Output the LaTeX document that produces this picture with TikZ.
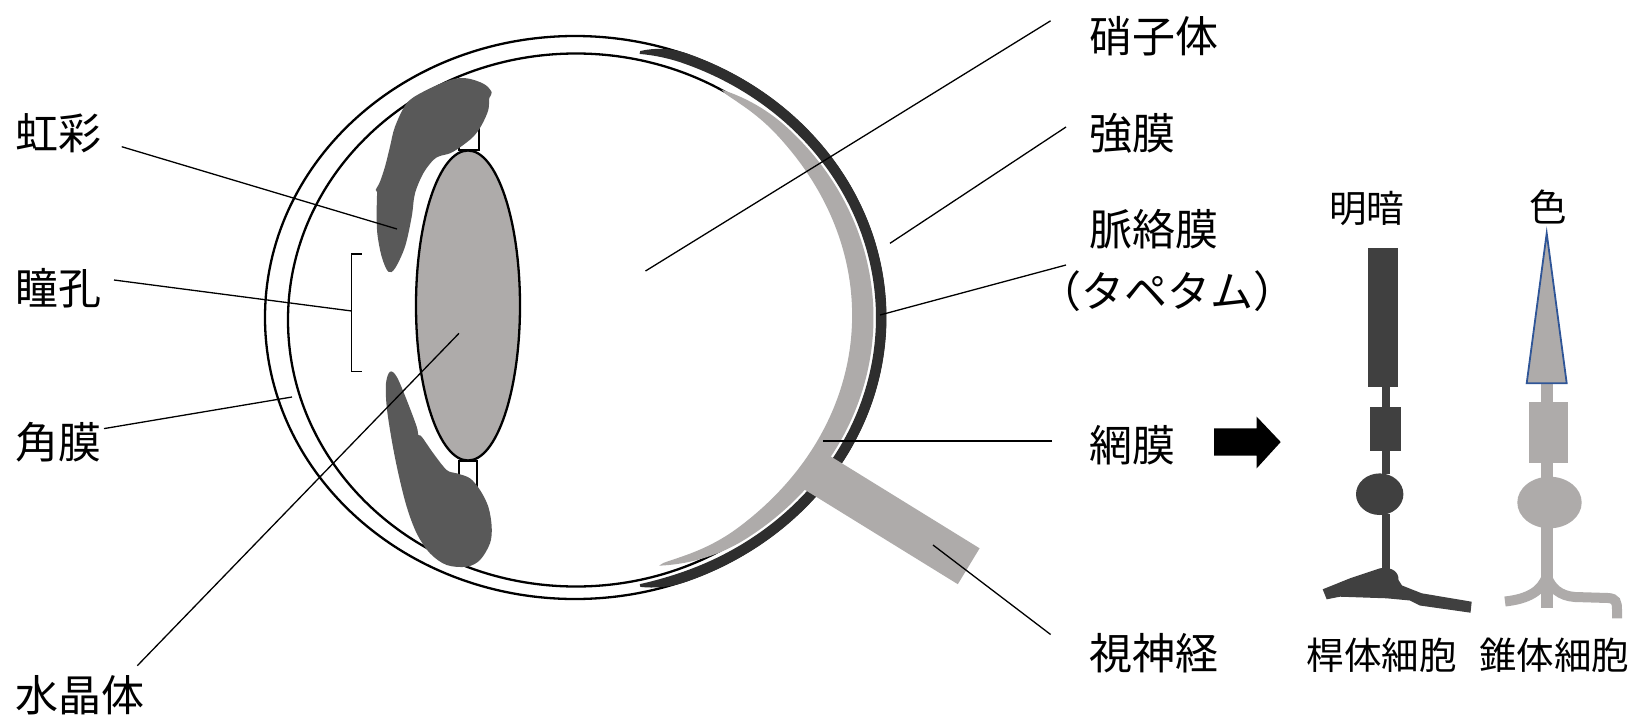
\documentclass[tikz,border=0pt]{standalone}
\usepackage{fontspec}
\newfontfamily\jp{Noto Sans CJK JP}
\usetikzlibrary{calc}
\definecolor{irisgray}{HTML}{595959}
\definecolor{softgray}{HTML}{AEABAA}
\definecolor{choroidgray}{HTML}{2E2E2E}
\definecolor{rodgray}{HTML}{404040}
\definecolor{coneblue}{HTML}{2F5597}
\begin{document}
\begin{tikzpicture}[x=1pt,y=-1pt,
  shell/.style={draw=black,line width=2.3pt},
  leader/.style={draw=black,line width=1.3pt},
  lbl/.style={font=\jp\fontsize{43}{50}\selectfont,inner sep=0pt},
  cell/.style={font=\jp\fontsize{37.5}{44}\selectfont,inner sep=0pt},
  declare function={
    sb(\t)=max(0,(abs(\t)-69)/8.5);
    kb(\t)=7+3*(\t>0);
    cb(\t)=3.75+(kb(\t)-3.75)*sb(\t)*sb(\t);
    hb(\t)=5.25-3.75*sb(\t)*sb(\t);
    pa(\t)=max(0,(\t-45)/14.84);
    pb(\t)=max(0,(-\t-55)/18);
    fo(\t)=11.5+6.5*pa(\t)*pa(\t)+10.5*pb(\t)*pb(\t);
    uu(\t)=(\t+6.58)/66.42;
    ww(\t)=21.5*pow(max(0.00001,1-uu(\t)*uu(\t)),0.6);
  }]
\useasboundingbox (0,0) rectangle (1631,718);
\fill[white] (0,0) rectangle (1631,718);

% eyeball: outer and inner walls
\draw[shell] (575,317.5) ellipse [x radius=310,y radius=281.5];
\draw[shell] (576,320) ellipse [x radius=288,y radius=266.5];

% suspensory ligaments above and below the lens
\draw[fill=white,draw=black,line width=2pt] (458.5,120) rectangle (478.5,149.5);
\draw[fill=white,draw=black,line width=2pt] (458.5,460.5) rectangle (476.5,500);

% lens
\draw[fill=softgray,draw=black,line width=2.3pt] (468,305.5) ellipse [x radius=52,y radius=155];

% iris, upper and lower
\fill[irisgray] plot[smooth cycle,tension=0.55] coordinates {
  (491.7,92.3) (489.3,98) (488.3,110) (481.7,125) (473.3,136.7) (460,147.3)
  (450,153.3) (440,156) (433.3,160) (423.3,173.3) (415,193.3) (411.7,216.7)
  (405,246.7) (395,268.3) (388.3,271.7) (381.7,256.7) (377.3,233.3) (376.7,210)
  (377,192) (375.7,190) (380,181.7) (385,166.7) (390,146.7) (395,126.7)
  (406.7,103.3) (423.3,91.7) (450,80) (466.7,78.3) (484,84)};
\fill[irisgray] plot[smooth cycle,tension=0.55] coordinates {
  (390,371.7) (396.7,376.7) (406.7,400) (416.7,426.7) (418.3,435) (421.7,436.7)
  (433.3,453.3) (446.7,470) (456.7,473.3) (470,478.3) (480,490) (488.3,506.7)
  (491.7,526.7) (490,543.3) (480,560) (466.7,566.7) (446.7,565) (430,553.3)
  (416.7,533.3) (406.7,506.7) (398.3,473.3) (391.7,440) (386.7,406.7) (386,383.3)};

% retina
\fill[softgray]
  plot[domain=-73:59.84,samples=140,variable=\t]
    ({575+(310-fo(\t))*cos(\t)},{317.5-(281.5-fo(\t))*sin(\t)})
  -- plot[domain=59.84:-73,samples=140,variable=\t]
    ({575+(310-fo(\t)-ww(\t))*cos(\t)},{317.5-(281.5-fo(\t)-ww(\t))*sin(\t)})
  -- cycle;

% choroid
\fill[choroidgray]
  plot[domain=-77.6:77.5,samples=160,variable=\t]
    ({575+(310-cb(\t)+hb(\t))*cos(\t)},{317.5-(281.5-cb(\t)+hb(\t))*sin(\t)})
  -- plot[domain=77.5:-77.6,samples=160,variable=\t]
    ({575+(310-cb(\t)-hb(\t))*cos(\t)},{317.5-(281.5-cb(\t)-hb(\t))*sin(\t)})
  -- cycle;

% optic nerve
\fill[softgray] (823.9,452.2) -- (979.6,548.3) -- (957.8,584.2) -- (802.1,488.1) -- cycle;

% pupil bracket
\draw[leader] (361.5,254) -- (351.7,254) -- (351.7,371.7) -- (361.5,371.7);

% labels
\node[lbl,anchor=west] (kousai) at (15,133) {虹彩};
\node[lbl,anchor=west] (doukou) at (15,288) {瞳孔};
\node[lbl,anchor=west] (kakumaku) at (15,442) {角膜};
\node[lbl,anchor=west] (suishoutai) at (15,695) {水晶体};
\node[lbl,anchor=west] (shoushitai) at (1089,36.4) {硝子体};
\node[lbl,anchor=west] (kyoumaku) at (1089,133) {強膜};
\node[lbl,anchor=west] (myakuraku) at (1089,229) {脈絡膜};
\node[lbl,anchor=center] (tapetum) at (1167,291) {（タペタム）};
\node[lbl,anchor=west] (moumaku) at (1089,445) {網膜};
\node[lbl,anchor=west] (shishinkei) at (1089,653) {視神経};

% leader line ends
\coordinate (kousaiA) at (121.7,146.7);   \coordinate (kousaiB) at (397,229);
\coordinate (doukouA) at (114,280);       \coordinate (doukouB) at (351.7,311);
\coordinate (kakuA) at (104,428.6);       \coordinate (kakuB) at (292,397);
\coordinate (suiA) at (137.3,665.7);      \coordinate (suiB) at (459,333.3);
\coordinate (shouA) at (1050.6,20.8);     \coordinate (shouB) at (645.5,271);
\coordinate (kyouA) at (1066,127);        \coordinate (kyouB) at (890,243.3);
\coordinate (myakuA) at (1066,265);       \coordinate (myakuB) at (880,315);
\coordinate (mouA) at (1052,441);         \coordinate (mouB) at (823.3,441);
\coordinate (shiA) at (1050.6,634.5);     \coordinate (shiB) at (933,545);

\draw[leader] (kousaiA) -- (kousaiB);
\draw[leader] (doukouA) -- (doukouB);
\draw[leader] (kakuA) -- (kakuB);
\draw[leader] (suiA) -- (suiB);
\draw[leader] (shouA) -- (shouB);
\draw[leader] (kyouA) -- (kyouB);
\draw[leader] (myakuA) -- (myakuB);
\draw[leader] (mouA) -- (mouB);
\draw[leader] (shiA) -- (shiB);

% arrow towards the cells
\fill[black] (1214,428.3) -- (1256.7,428.3) -- (1256.7,416.7) -- (1280.7,442)
  -- (1256.7,468.3) -- (1256.7,455.5) -- (1214,455.5) -- cycle;

% rod cell
\fill[rodgray] (1367.7,248.3) rectangle (1398.3,387.3);
\fill[rodgray] (1381.7,387) rectangle (1390,407);
\fill[rodgray] (1370,406.7) rectangle (1400.7,451);
\fill[rodgray] (1381.7,450) rectangle (1390,474);
\fill[rodgray] (1379.7,494.2) ellipse [x radius=23.7,y radius=20.8];
\fill[rodgray] (1381.7,514) rectangle (1390,570);
\fill[rodgray] (1322.7,589.3) -- (1350,578.3) -- (1380,568.3)
  .. controls (1392,566.5) and (1399,572) .. (1398.5,580) -- (1402,585.5)
  -- (1421.7,593.3) -- (1471.7,601.7) -- (1470.5,612.7) -- (1420,605.5)
  -- (1410,600.5) -- (1386.7,598.3) -- (1340,596.7) -- (1326.7,599.3) -- cycle;

% cone cell
\fill[softgray] (1540.7,383) rectangle (1552.7,402.5);
\fill[softgray] (1529.3,401.7) rectangle (1567.7,462.7);
\fill[softgray] (1540.7,462) rectangle (1552.7,479);
\fill[softgray] (1549.5,502.5) ellipse [x radius=32.2,y radius=25.8];
\fill[softgray] (1540.7,527) rectangle (1552.7,608.3);
\draw[softgray,line width=10pt] (1546.7,576) .. controls (1542,591) and (1528,599) .. (1505,601.5);
\draw[softgray,line width=10pt] (1546.7,576) .. controls (1551,588) and (1560,596) .. (1575,597)
  -- (1608,598) .. controls (1616,598.5) and (1617,602) .. (1617,610) -- (1617,618.3);
\draw[fill=softgray,draw=coneblue,line width=1.8pt,line join=miter]
  (1546.7,233.3) -- (1566.7,383.3) -- (1526.7,383.3) -- cycle;

% cell captions
\node[cell] (meian) at (1366.7,208.3) {明暗};
\node[cell] (iro) at (1548,207) {色};
\node[cell] (kantai) at (1381.8,655) {桿体細胞};
\node[cell] (suitai) at (1554,655) {錐体細胞};
\end{tikzpicture}
\end{document}
